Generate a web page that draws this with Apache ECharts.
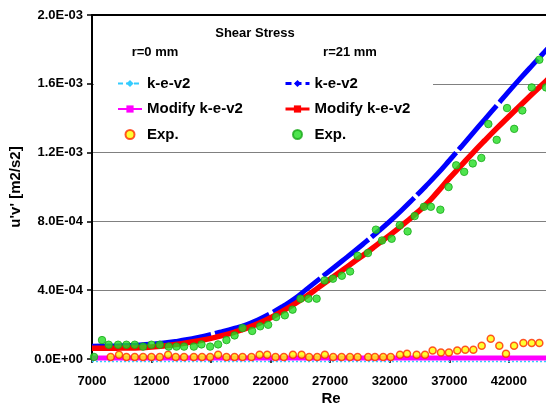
<!DOCTYPE html>
<html>
<head>
<meta charset="utf-8">
<script src="https://cdn.jsdelivr.net/npm/echarts@6/dist/echarts.min.js"></script>
<style>
  html, body { margin: 0; padding: 0; background: #fff; }
  #chart { width: 546px; height: 408px; }
</style>
</head>
<body>
<div id="chart"></div>
<script>
// Shear stress u'v' vs Re — r=0 mm 與 r=21 mm，模擬 (k-e-v2 / Modify) 與實驗值
var FONT = "'Liberation Sans', Arial, sans-serif";

// ── 資料 ──────────────────────────────
var reModel = [7000, 8000, 9000, 10000, 11000, 12000, 13000, 14000, 15000, 16000,
  17000, 18000, 19000, 20000, 21000, 22000, 23000, 24000, 25000, 26000,
  27000, 28000, 29000, 30000, 31000, 32000, 33000, 34000, 35000, 36000,
  37000, 38000, 39000, 40000, 41000, 42000, 43000, 44000, 45000, 46000];

// r=0 mm（幾乎為 0）
var ke0 = [-1.5e-5, -1.5e-5, -1.5e-5, -1.5e-5, -1.5e-5, -1.5e-5, -1.5e-5, -1.5e-5, -1.5e-5, -1.5e-5,
  -1.5e-5, -1.5e-5, -1.5e-5, -1.5e-5, -1.5e-5, -1.5e-5, -1.5e-5, -1.5e-5, -1.5e-5, -1.5e-5,
  -1.5e-5, -1.5e-5, -1.5e-5, -1.5e-5, -1.5e-5, -1.5e-5, -1.5e-5, -1.5e-5, -1.5e-5, -1.5e-5,
  -1.5e-5, -1.5e-5, -1.5e-5, -1.5e-5, -1.5e-5, -1.5e-5, -1.5e-5, -1.5e-5, -1.5e-5, -1.5e-5];
var mod0 = [6e-6, 6e-6, 6e-6, 6e-6, 6e-6, 6e-6, 6e-6, 6e-6, 6e-6, 6e-6,
  6e-6, 6e-6, 6e-6, 6e-6, 6e-6, 6e-6, 6e-6, 6e-6, 6e-6, 6e-6,
  6e-6, 6e-6, 6e-6, 6e-6, 6e-6, 6e-6, 6e-6, 6e-6, 6e-6, 6e-6,
  6e-6, 6e-6, 6e-6, 6e-6, 6e-6, 6e-6, 6e-6, 6e-6, 6e-6, 6e-6];

// r=21 mm
var ke21 = [7.4e-5, 7.5e-5, 7.6e-5, 7.8e-5, 8.1e-5, 8.6e-5, 9.3e-5, 1.02e-4, 1.13e-4, 1.27e-4,
  1.43e-4, 1.61e-4, 1.80e-4, 2.00e-4, 2.30e-4, 2.65e-4, 3.05e-4, 3.50e-4, 4.05e-4, 4.60e-4,
  5.15e-4, 5.70e-4, 6.25e-4, 6.82e-4, 7.40e-4, 8.00e-4, 8.65e-4, 9.33e-4, 1.003e-3, 1.076e-3,
  1.154e-3, 1.234e-3, 1.315e-3, 1.395e-3, 1.475e-3, 1.556e-3, 1.634e-3, 1.710e-3, 1.785e-3, 1.860e-3];
var mod21 = [6.2e-5, 6.2e-5, 6.3e-5, 6.4e-5, 6.6e-5, 7.0e-5, 7.6e-5, 8.4e-5, 9.4e-5, 1.06e-4,
  1.20e-4, 1.37e-4, 1.57e-4, 1.80e-4, 2.07e-4, 2.40e-4, 2.78e-4, 3.20e-4, 3.65e-4, 4.15e-4,
  4.65e-4, 5.15e-4, 5.65e-4, 6.15e-4, 6.68e-4, 7.20e-4, 7.75e-4, 8.33e-4, 8.95e-4, 9.70e-4,
  1.050e-3, 1.125e-3, 1.200e-3, 1.272e-3, 1.342e-3, 1.410e-3, 1.477e-3, 1.543e-3, 1.608e-3, 1.672e-3];

// 實驗值 r=0 mm
var reExp0 = [8570, 9270, 9890, 10590, 11290, 11990, 12690, 13390, 14030, 14730,
  15550, 16240, 16920, 17590, 18290, 18970, 19640, 20390, 21070, 21710,
  22410, 23110, 23870, 24600, 25230, 25910, 26550, 27250, 27960, 28660,
  29300, 30190, 30760, 31450, 32080, 32860, 33450, 34260, 34960, 35600,
  36300, 36970, 37670, 38340, 39020, 39720, 40480, 41200, 41760, 42440,
  43220, 43920, 44560];
var exp0 = [1.2e-5, 2.5e-5, 1.2e-5, 1.2e-5, 1.2e-5, 1.2e-5, 1.2e-5, 2.5e-5, 1.2e-5, 1.2e-5,
  1.2e-5, 1.2e-5, 1.2e-5, 2.5e-5, 1.2e-5, 1.2e-5, 1.2e-5, 1.2e-5, 2.5e-5, 2.5e-5,
  1.2e-5, 1.2e-5, 2.5e-5, 2.5e-5, 1.2e-5, 1.2e-5, 2.5e-5, 1.2e-5, 1.2e-5, 1.2e-5,
  1.2e-5, 1.2e-5, 1.2e-5, 1.2e-5, 1.2e-5, 2.5e-5, 3.1e-5, 2.5e-5, 2.5e-5, 5.0e-5,
  3.8e-5, 3.8e-5, 5.0e-5, 5.4e-5, 5.4e-5, 7.7e-5, 1.18e-4, 7.7e-5, 3.1e-5, 7.7e-5,
  9.3e-5, 9.3e-5, 9.3e-5];

// 實驗值 r=21 mm
var reExp21 = [7170, 7840, 8400, 9190, 9890, 10590, 11290, 11990, 12690, 13440,
  14090, 14730, 15550, 16190, 16920, 17590, 18290, 18970, 19640, 20450,
  21120, 21790, 22460, 23190, 23840, 24510, 25180, 25860, 26530, 27230,
  27980, 28670, 29300, 30170, 30840, 31350, 32160, 32840, 33500, 34090,
  34870, 35450, 36250, 36940, 37580, 38250, 38970, 39690, 40280, 40980,
  41850, 42450, 43130, 43920, 44560, 45120];
var exp21 = [1.2e-5, 1.10e-4, 8.3e-5, 8.3e-5, 8.3e-5, 8.3e-5, 7.2e-5, 8.3e-5, 8.3e-5, 7.2e-5,
  7.2e-5, 7.2e-5, 7.2e-5, 8.5e-5, 7.2e-5, 8.5e-5, 1.10e-4, 1.37e-4, 1.80e-4, 1.63e-4,
  1.90e-4, 1.99e-4, 2.44e-4, 2.54e-4, 2.87e-4, 3.51e-4, 3.51e-4, 3.51e-4, 4.57e-4, 4.67e-4,
  4.84e-4, 5.09e-4, 6.00e-4, 6.16e-4, 7.52e-4, 6.89e-4, 6.99e-4, 7.78e-4, 7.42e-4, 8.31e-4,
  8.85e-4, 8.85e-4, 8.68e-4, 1.0e-3, 1.126e-3, 1.088e-3, 1.137e-3, 1.169e-3, 1.366e-3, 1.274e-3,
  1.459e-3, 1.338e-3, 1.445e-3, 1.579e-3, 1.740e-3, 1.579e-3];

var yTickLabels = ["0.0E+00", "4.0E-04", "8.0E-04", "1.2E-03", "1.6E-03", "2.0E-03"];

// 原圖右側被裁切，x 軸停在 Re≈45120 處
var X_MIN = 7000, X_MAX = 45120;

function zip(xs, ys) { return xs.map(function (x, i) { return [x, ys[i]]; }); }
function label(n) { return n.split("@")[0]; }

var boldText = { fontFamily: FONT, fontWeight: "bold", color: "#000" };
function gText(x, y, text, size) {
  return { type: "text", z: 5, x: x, y: y,
    style: { text: text, fontSize: size, align: "center", verticalAlign: "middle",
      fill: "#000", fontFamily: FONT, fontWeight: "bold" } };
}
// 圖例一欄（Excel 風格：線 + 標記）
function legendCol(left, items) {
  return {
    left: left, top: 76, padding: 0, orient: "vertical",
    itemWidth: 24, itemHeight: 9, itemGap: 10.5,
    selectedMode: false, formatter: label,
    textStyle: Object.assign({ fontSize: 15 }, boldText),
    data: items
  };
}

var chart = echarts.init(document.getElementById("chart"), null, { renderer: "canvas" });
chart.setOption({
  animation: false,
  backgroundColor: "#fff",
  grid: { left: 92, right: 0, top: 15, bottom: 49, containLabel: false },
  xAxis: [{
    type: "value", min: X_MIN, max: X_MAX, interval: 5000,
    axisLine: { lineStyle: { color: "#000", width: 2 } },
    axisTick: { inside: false, length: 4, lineStyle: { color: "#000", width: 1.5 } },
    splitLine: { show: false },
    axisLabel: Object.assign({ fontSize: 13, margin: 16, showMaxLabel: false,
      formatter: function (v) { return String(v); } }, boldText)
  }, {
    type: "value", position: "top", min: X_MIN, max: X_MAX,
    axisLine: { lineStyle: { color: "#000", width: 2 } },
    axisTick: { show: false }, axisLabel: { show: false }, splitLine: { show: false }
  }],
  yAxis: {
    type: "value", min: 0, max: 0.002, interval: 0.0004,
    name: "u'v' [m2/s2]", nameLocation: "middle", nameGap: 64,
    nameTextStyle: Object.assign({ fontSize: 15 }, boldText),
    axisLine: { lineStyle: { color: "#000", width: 2 } },
    axisTick: { inside: false, length: 5, lineStyle: { color: "#000", width: 1.5 } },
    splitLine: { lineStyle: { color: "#808080", width: 1 } },
    axisLabel: Object.assign({ fontSize: 13, margin: 9,
      formatter: function (v) { return yTickLabels[Math.round(v / 0.0004)]; } }, boldText)
  },
  legend: [
    legendCol(117, [
      { name: "k-e-v2@0", lineStyle: { width: 2, type: [5, 3] } },
      { name: "Modify k-e-v2@0", lineStyle: { width: 2 } },
      { name: "Exp.@0" }
    ]),
    legendCol(284, [
      { name: "k-e-v2@21", lineStyle: { width: 3, type: [6, 4] } },
      { name: "Modify k-e-v2@21", lineStyle: { width: 3 } },
      { name: "Exp.@21" }
    ])
  ],
  graphic: [
    // 圖例底的白框（蓋住 1.6E-03 格線）
    { type: "rect", z: 1, shape: { x: 94, y: 17, width: 339, height: 135 }, style: { fill: "#fff" } },
    gText(255, 33, "Shear Stress", 13),
    gText(155, 52, "r=0 mm", 13),
    gText(350, 52, "r=21 mm", 13),
    gText(331, 399, "Re", 15)
  ],
  series: [
    { name: "k-e-v2@0", type: "line", data: zip(reModel, ke0), clip: false,
      symbol: "diamond", symbolSize: 7, showSymbol: false, z: 2,
      itemStyle: { color: "#33CCFF" }, lineStyle: { color: "#33CCFF", width: 1.5, type: [2, 2] } },
    { name: "Modify k-e-v2@0", type: "line", data: zip(reModel, mod0),
      symbol: "rect", symbolSize: 6, showSymbol: false, z: 3,
      itemStyle: { color: "#FF00FF" }, lineStyle: { color: "#FF00FF", width: 5 } },
    { name: "Exp.@0", type: "scatter", data: zip(reExp0, exp0), symbolSize: 7, z: 5,
      itemStyle: { color: "#FFFF00", borderColor: "#FF2A00", borderWidth: 1.5 } },
    { name: "k-e-v2@21", type: "line", data: zip(reModel, ke21), smooth: true,
      symbol: "diamond", symbolSize: 8, showSymbol: false, z: 3,
      itemStyle: { color: "#0000FF" }, lineStyle: { color: "#0000FF", width: 5, type: [58, 4] } },
    { name: "Modify k-e-v2@21", type: "line", data: zip(reModel, mod21), smooth: true,
      symbol: "rect", symbolSize: 6, showSymbol: false, z: 4,
      itemStyle: { color: "#FF0000" }, lineStyle: { color: "#FF0000", width: 5.5 } },
    { name: "Exp.@21", type: "scatter", data: zip(reExp21, exp21), symbolSize: 7.5, z: 5,
      itemStyle: { color: "#22DD22", borderColor: "#18A818", borderWidth: 1 } }
  ]
});
</script>
</body>
</html>
